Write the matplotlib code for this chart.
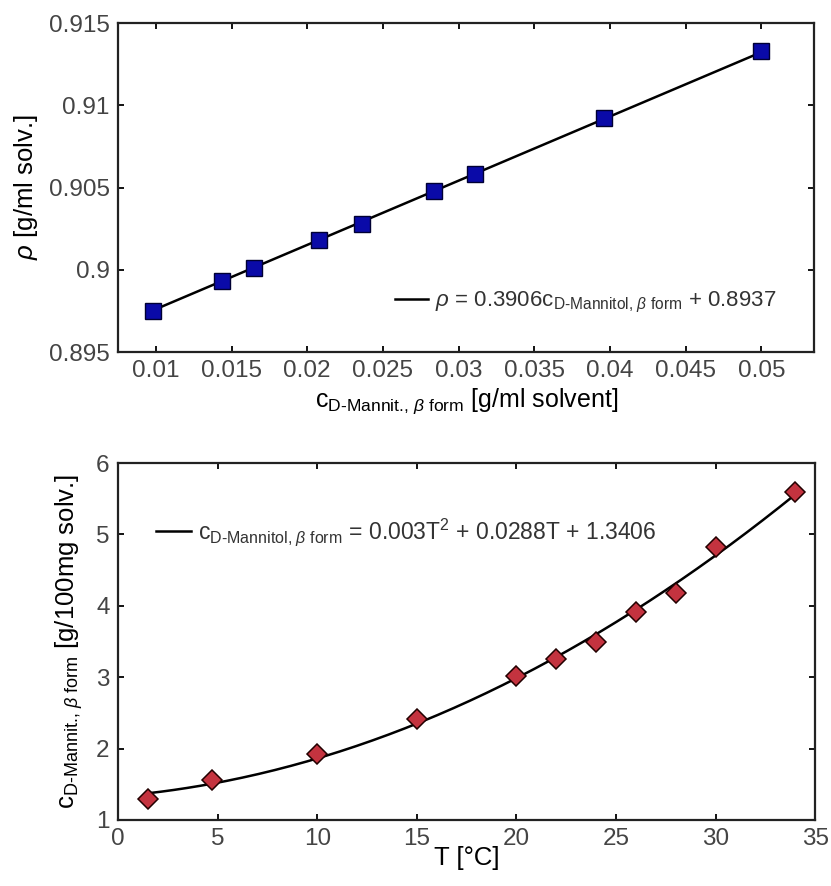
import matplotlib
matplotlib.use("Agg")
import matplotlib.pyplot as plt
import numpy as np
from matplotlib.ticker import FormatStrFormatter

# density vs concentration
c_mannit = [0.0098, 0.0144, 0.0165, 0.0208, 0.0236, 0.0284, 0.0311, 0.0396, 0.0500]
rho = [0.8975, 0.8993, 0.9001, 0.9018, 0.9028, 0.9048, 0.9058, 0.9092, 0.9133]
rho_slope = 0.3906
rho_icpt = 0.8937

# solubility vs temperature
T = [1.5, 4.7, 10, 15, 20, 22, 24, 26, 28, 30, 34]
c_sol = [1.29, 1.56, 1.92, 2.41, 3.02, 3.26, 3.50, 3.92, 4.18, 4.83, 5.60]

plt.rcParams['font.family'] = ['Liberation Sans', 'DejaVu Sans']
plt.rcParams['mathtext.fontset'] = 'custom'
plt.rcParams['mathtext.rm'] = 'Liberation Sans'
plt.rcParams['mathtext.it'] = 'Liberation Sans:italic'
plt.rcParams['mathtext.bf'] = 'Liberation Sans:bold'
plt.rcParams['text.color'] = '#333333'

fig = plt.figure(figsize=(8.31, 8.86), dpi=100)
ax1 = fig.add_axes([0.142, 0.6027, 0.838, 0.3713])
ax2 = fig.add_axes([0.142, 0.0745, 0.839, 0.4029])

def style(ax):
    for s in ax.spines.values():
        s.set_linewidth(1.6)
        s.set_color('#222222')
    ax.tick_params(direction='in', top=True, right=True, length=4, width=1.3,
                   labelsize=17.5, labelcolor='#444444', pad=6)

# top panel
xf = np.array([c_mannit[0], c_mannit[-1]])
ax1.plot(xf, rho_slope * xf + rho_icpt, color='black', lw=1.8,
         label=r'$\rho$ = 0.3906c$_{\text{D-Mannitol, }\beta\text{ form}}$ + 0.8937')
ax1.plot(c_mannit, rho, 's', ms=11, mfc='#0a0aa8', mec='#000033', mew=1.0)
ax1.set_xlim(0.0075, 0.0535)
ax1.set_ylim(0.895, 0.915)
ax1.set_xticks(np.arange(0.01, 0.0501, 0.005))
ax1.set_yticks(np.arange(0.895, 0.9151, 0.005))
ax1.xaxis.set_major_formatter(FormatStrFormatter('%g'))
ax1.yaxis.set_major_formatter(FormatStrFormatter('%g'))
style(ax1)
ax1.set_xlabel(r'c$_{\text{D-Mannit., }\beta\text{ form}}$ [g/ml solvent]', fontsize=18, labelpad=3)
ax1.set_ylabel(r'$\rho$ [g/ml solv.]', fontsize=18.5, labelpad=6)
ax1.legend(loc='center right', bbox_to_anchor=(0.945, 0.15), frameon=False,
           fontsize=16, handlelength=1.5, handletextpad=0.3, borderpad=0, borderaxespad=0)

# bottom panel
coef = np.polyfit(T, c_sol, 2)
Tf = np.linspace(T[0], T[-1], 200)
ax2.plot(Tf, np.polyval(coef, Tf), color='black', lw=1.8,
         label=r'c$_{\text{D-Mannitol, }\beta\text{ form}}$ = 0.003T$^2$ + 0.0288T + 1.3406')
ax2.plot(T, c_sol, 'D', ms=10, mfc='#c4333f', mec='#220000', mew=1.1)
ax2.set_xlim(0, 35)
ax2.set_ylim(1, 6)
ax2.set_xticks(np.arange(0, 36, 5))
ax2.set_yticks(np.arange(1, 7, 1))
style(ax2)
ax2.set_xlabel('T [°C]', fontsize=18.5, labelpad=-3)
ax2.set_ylabel(r'c$_{\text{D-Mannit., }\beta\text{ form}}$ [g/100mg solv.]', fontsize=18.5, labelpad=8)
ax2.legend(loc='center left', bbox_to_anchor=(0.055, 0.807), frameon=False,
           fontsize=16.5, handlelength=1.5, handletextpad=0.3, borderpad=0, borderaxespad=0)

fig.savefig('out.png', dpi=100)
